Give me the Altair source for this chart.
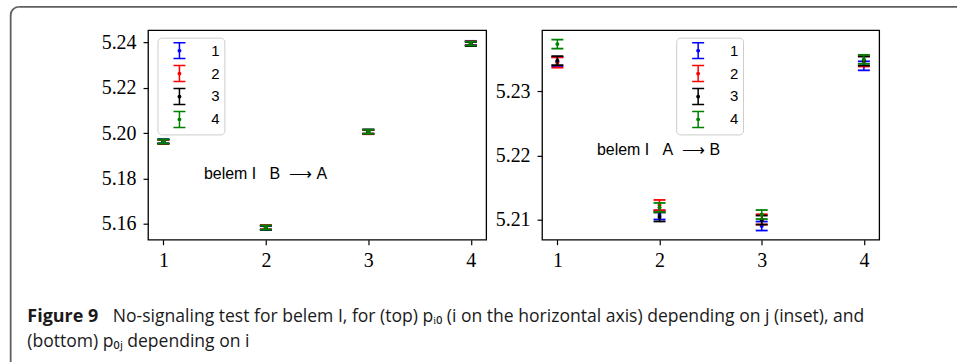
import altair as alt
import pandas as pd

# ---------------- data ----------------
series_labels = ["1", "2", "3", "4"]
series_colors = ["#0000ff", "#ff0000", "#000000", "#008000"]
x_values = [1, 2, 3, 4]
x_ticks = [1, 2, 3, 4]

# left panel: belem I  B -> A
ba_mean_1 = [5.1964, 5.1582, 5.2006, 5.2397]
ba_mean_2 = [5.1961, 5.1586, 5.2004, 5.2395]
ba_mean_3 = [5.1963, 5.1584, 5.2007, 5.2392]
ba_mean_4 = [5.1963, 5.1584, 5.2006, 5.2394]
ba_err = [0.0009, 0.0009, 0.0009, 0.0009]
ba_yticks = [5.16, 5.18, 5.20, 5.22, 5.24]
ba_ydomain = [5.1531, 5.2453]

# right panel: belem I  A -> B
ab_mean_1 = [5.2346, 5.21074, 5.20902, 5.23395]
ab_mean_2 = [5.23447, 5.21228, 5.21005, 5.23465]
ab_mean_3 = [5.23476, 5.21043, 5.20995, 5.2347]
ab_mean_4 = [5.23733, 5.21191, 5.21081, 5.23496]
ab_err = [0.0007, 0.0008, 0.0007, 0.0007]
ab_yticks = [5.21, 5.22, 5.23]
ab_ydomain = [5.2069, 5.2395]

x_domain = [0.85, 4.15]

NB = "\u00a0"
ba_label = "belem I" + NB * 3 + "B" + NB * 2 + "\u27f6" + NB + "A"
ab_label = "belem I" + NB * 3 + "A" + NB * 2 + "\u27f6" + NB + "B"
caption_head = "Figure 9"
caption_line1 = ("No-signaling test for belem I, for (top) p\u1d62\u2080 (i on the horizontal axis) "
                 "depending on j (inset), and")
caption_line2 = "(bottom) p\u2080\u2c7c depending on i"


def make_df(means, errs):
    rows = []
    for s, m_list, e in zip(series_labels, means, errs):
        for x, m in zip(x_values, m_list):
            rows.append({"x": x, "series": s, "mean": m, "err": e})
    return pd.DataFrame(rows)


ba_df = make_df([ba_mean_1, ba_mean_2, ba_mean_3, ba_mean_4], ba_err)
ab_df = make_df([ab_mean_1, ab_mean_2, ab_mean_3, ab_mean_4], ab_err)
one = pd.DataFrame({"k": [0]})

LEGEND_PATH = ("M-0.75,-1H0.75M0,-1V1M-0.75,1H0.75"
               "M0.15,0A0.15,0.15,0,1,1,-0.15,0A0.15,0.15,0,1,1,0.15,0")


def panel(df, ydomain, yticks, label, label_xy, legend_xy, width, extras=()):
    color_scale = alt.Scale(domain=series_labels, range=series_colors)
    xscale = alt.Scale(domain=x_domain, nice=False, zero=False)
    yscale = alt.Scale(domain=ydomain, nice=False, zero=False)
    xaxis = alt.Axis(values=x_ticks, format="d", title=None)
    yaxis = alt.Axis(values=yticks, format=".2f", title=None)
    xs = alt.X("x:Q", scale=xscale, axis=xaxis)

    base = alt.Chart(df).transform_calculate(
        lo="datum.mean - datum.err", hi="datum.mean + datum.err"
    )
    legend = alt.Legend(
        title=None, orient="none", legendX=legend_xy[0], legendY=legend_xy[1],
        symbolType=LEGEND_PATH, symbolSize=256, symbolStrokeWidth=1.5,
        padding=4, rowPadding=1, symbolOffset=9, labelOffset=23,
        labelFont="Liberation Sans", labelFontSize=15, labelColor="black",
        strokeColor="#cccccc", fillColor="rgba(255,255,255,0.8)", cornerRadius=4,
    )
    layers = []
    for i, s in enumerate(series_labels):
        b = base.transform_filter(alt.datum.series == s)
        c_leg = alt.Color("series:N", scale=color_scale, legend=legend if i == 0 else None)
        color = alt.Color("series:N", scale=color_scale, legend=None)
        rule = b.mark_rule(strokeWidth=1.5).encode(
            x=xs, y=alt.Y("lo:Q", scale=yscale, axis=yaxis), y2="hi:Q", color=c_leg)
        tick_lo = b.mark_tick(orient="horizontal", size=12, thickness=1.8, opacity=1).encode(
            x=xs, y=alt.Y("lo:Q", scale=yscale, axis=yaxis), color=color)
        tick_hi = b.mark_tick(orient="horizontal", size=12, thickness=1.8, opacity=1).encode(
            x=xs, y=alt.Y("hi:Q", scale=yscale, axis=yaxis), color=color)
        pt = b.mark_circle(size=16, opacity=1).encode(
            x=xs, y=alt.Y("mean:Q", scale=yscale, axis=yaxis), color=color)
        layers += [rule, tick_lo, tick_hi, pt]

    txt = alt.Chart(one).mark_text(
        text=label, font="Liberation Sans", fontSize=16, align="left",
        baseline="middle", color="black"
    ).encode(x=alt.value(label_xy[0]), y=alt.value(label_xy[1]))
    layers.append(txt)
    layers += list(extras)
    return alt.layer(*layers).properties(width=width, height=210)


BORDER = "#606060"
extras = [
    # rounded figure frame (decoration)
    alt.Chart(one).mark_rect(color=BORDER, opacity=1).encode(
        x=alt.value(-138.6), x2=alt.value(-136.8), y=alt.value(-15.3), y2=alt.value(333)),
    alt.Chart(one).mark_rect(color=BORDER, opacity=1).encode(
        x=alt.value(-129.7), x2=alt.value(811), y=alt.value(-24.2), y2=alt.value(-22.4)),
    alt.Chart(one).mark_arc(color=BORDER, opacity=1, radius=8.9, radius2=7.1,
                            theta=4.712389, theta2=6.283185).encode(
        x=alt.value(-129.7), y=alt.value(-15.3)),
    # caption
    alt.Chart(one).mark_text(text=caption_head, font="Open Sans", fontWeight="bold",
                             fontSize=18, align="left", baseline="middle",
                             color="#1a1a1a").encode(
        x=alt.value(-121), y=alt.value(287.7)),
    alt.Chart(one).mark_text(text=caption_line1, font="Open Sans", fontSize=17.6,
                             align="left", baseline="middle", color="#1a1a1a").encode(
        x=alt.value(-35.3), y=alt.value(287.7)),
    alt.Chart(one).mark_text(text=caption_line2, font="Open Sans", fontSize=17.6,
                             align="left", baseline="middle", color="#1a1a1a").encode(
        x=alt.value(-121), y=alt.value(312.7)),
]

left = panel(ba_df, ba_ydomain, ba_yticks, ba_label, (56, 143.7), (9.5, 7.5), 339, extras)
right = panel(ab_df, ab_ydomain, ab_yticks, ab_label, (55, 120), (134.5, 7.5), 338)

chart = (
    alt.hconcat(left, right, spacing=56, bounds="flush")
    .resolve_scale(color="independent")
    .resolve_legend(color="independent")
    .properties(padding={"left": 8.4, "top": 4.8, "right": 0, "bottom": 0},
                background="white")
    .configure_view(stroke="black", strokeWidth=1.3)
    .configure_axis(
        labelFont="Liberation Serif", labelFontSize=20, labelColor="black",
        tickColor="black", tickSize=5, tickWidth=1.2, domain=False, grid=False,
    )
    .configure_axisX(labelPadding=6)
    .configure_axisY(labelPadding=7)
)

chart.save("out.html", embed_options={"renderer": "svg", "actions": False})
